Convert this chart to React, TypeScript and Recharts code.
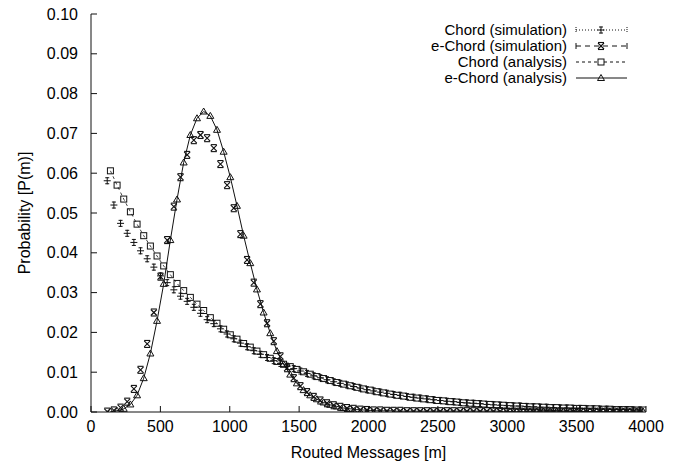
import React from 'react';
import { ScatterChart, Scatter, XAxis, YAxis, Legend } from 'recharts';

const W = 679;
const H = 464;
const FONT = '"Liberation Sans", Arial, Helvetica, sans-serif';
const FS = 16;
const LEG_FS = 15;

const seriesNames = ['Chord (simulation)', 'e-Chord (simulation)', 'Chord (analysis)', 'e-Chord (analysis)'];
const xTicks = [0, 500, 1000, 1500, 2000, 2500, 3000, 3500, 4000];
const yTicks = [0, 0.01, 0.02, 0.03, 0.04, 0.05, 0.06, 0.07, 0.08, 0.09, 0.1];

// routed messages at which the simulated values are reported
const simX = [117, 165, 213, 261, 309, 357, 405, 453, 501, 549, 597, 645, 693, 741, 789, 837, 885, 933, 981, 1029,
  1077, 1125, 1173, 1221, 1269, 1317, 1365, 1413, 1461, 1509, 1557, 1605, 1653, 1701, 1749, 1797, 1845, 1893, 1941, 1989,
  2037, 2085, 2133, 2181, 2229, 2277, 2325, 2373, 2421, 2469, 2517, 2565, 2613, 2661, 2709, 2757, 2805, 2853, 2901, 2949,
  2997, 3045, 3093, 3141, 3189, 3237, 3285, 3333, 3381, 3429, 3477, 3525, 3573, 3621, 3669, 3717, 3765, 3813, 3861, 3909, 3957];

// routed messages at which the analytical values are reported
const anaX = [140, 188, 236, 284, 332, 380, 428, 476, 524, 572, 620, 668, 716, 764, 812, 860, 908, 956, 1004, 1052,
  1100, 1148, 1196, 1244, 1292, 1340, 1388, 1436, 1484, 1532, 1580, 1628, 1676, 1724, 1772, 1820, 1868, 1916, 1964, 2012,
  2060, 2108, 2156, 2204, 2252, 2300, 2348, 2396, 2444, 2492, 2540, 2588, 2636, 2684, 2732, 2780, 2828, 2876, 2924, 2972,
  3020, 3068, 3116, 3164, 3212, 3260, 3308, 3356, 3404, 3452, 3500, 3548, 3596, 3644, 3692, 3740, 3788, 3836, 3884, 3932, 3980];

const chordSim = [0.0581, 0.0520, 0.0474, 0.0449, 0.0426, 0.0405, 0.0385, 0.0364, 0.0342, 0.0325, 0.0307, 0.0291, 0.0278, 0.0263, 0.0248, 0.0232, 0.0222, 0.0209, 0.0196, 0.0184,
  0.0173, 0.0164, 0.0154, 0.0145, 0.0137, 0.0129, 0.0122, 0.0115, 0.0109, 0.0103, 0.0097, 0.0091, 0.0086, 0.0081, 0.0076, 0.0072, 0.0068, 0.0064, 0.0060, 0.0056,
  0.0053, 0.0050, 0.0047, 0.0044, 0.0042, 0.0039, 0.0037, 0.0035, 0.0033, 0.0031, 0.0029, 0.0027, 0.0026, 0.0024, 0.0023, 0.0022, 0.0021, 0.0019, 0.0018, 0.0017,
  0.0016, 0.0015, 0.0015, 0.0014, 0.0013, 0.0012, 0.0012, 0.0011, 0.0010, 0.0010, 0.0009, 0.0009, 0.0008, 0.0008, 0.0007, 0.0007, 0.0006, 0.0006, 0.0006, 0.0005, 0.0005];

const eChordSim = [0.0001, 0.0004, 0.0011, 0.0026, 0.0058, 0.0106, 0.0171, 0.0250, 0.0340, 0.0432, 0.0516, 0.0590, 0.0646, 0.0683, 0.0696, 0.0688, 0.0663, 0.0623, 0.0570, 0.0512,
  0.0447, 0.0382, 0.0325, 0.0271, 0.0223, 0.0178, 0.0140, 0.0110, 0.0085, 0.0065, 0.0050, 0.0038, 0.0029, 0.0022, 0.0017, 0.0013, 0.0010, 0.0008, 0.0006, 0.0005,
  0.0004, 0.0004, 0.0003, 0.0003, 0.0003, 0.0002, 0.0002, 0.0002, 0.0002, 0.0002, 0.0002, 0.0002, 0.0002, 0.0002, 0.0002, 0.0002, 0.0002, 0.0002, 0.0002, 0.0002,
  0.0001, 0.0001, 0.0001, 0.0001, 0.0001, 0.0001, 0.0001, 0.0001, 0.0001, 0.0001, 0.0001, 0.0001, 0.0001, 0.0001, 0.0001, 0.0001, 0.0001, 0.0001, 0.0001, 0.0001, 0.0001];

const chordAna = [0.0606, 0.0570, 0.0535, 0.0503, 0.0472, 0.0443, 0.0417, 0.0392, 0.0367, 0.0345, 0.0323, 0.0305, 0.0288, 0.0271, 0.0255, 0.0237, 0.0223, 0.0208, 0.0194, 0.0183,
  0.0172, 0.0163, 0.0153, 0.0144, 0.0135, 0.0127, 0.0120, 0.0114, 0.0107, 0.0101, 0.0095, 0.0089, 0.0084, 0.0079, 0.0074, 0.0070, 0.0066, 0.0062, 0.0058, 0.0055,
  0.0051, 0.0048, 0.0045, 0.0042, 0.0040, 0.0037, 0.0035, 0.0033, 0.0031, 0.0029, 0.0028, 0.0026, 0.0025, 0.0023, 0.0022, 0.0021, 0.0020, 0.0019, 0.0018, 0.0017,
  0.0016, 0.0015, 0.0014, 0.0013, 0.0013, 0.0012, 0.0011, 0.0011, 0.0010, 0.0010, 0.0009, 0.0009, 0.0008, 0.0008, 0.0007, 0.0007, 0.0006, 0.0006, 0.0006, 0.0005, 0.0005];

const eChordAna = [0.0001, 0.0003, 0.0008, 0.0019, 0.0042, 0.0085, 0.0147, 0.0229, 0.0322, 0.0432, 0.0534, 0.0627, 0.0696, 0.0738, 0.0755, 0.0744, 0.0709, 0.0654, 0.0590, 0.0518,
  0.0443, 0.0374, 0.0308, 0.0250, 0.0198, 0.0153, 0.0120, 0.0094, 0.0072, 0.0055, 0.0042, 0.0032, 0.0024, 0.0018, 0.0014, 0.0010, 0.0008, 0.0006, 0.0005, 0.0004,
  0.0003, 0.0003, 0.0003, 0.0002, 0.0002, 0.0002, 0.0002, 0.0002, 0.0002, 0.0002, 0.0002, 0.0002, 0.0002, 0.0002, 0.0002, 0.0002, 0.0002, 0.0002, 0.0002, 0.0001,
  0.0001, 0.0001, 0.0001, 0.0001, 0.0001, 0.0001, 0.0001, 0.0001, 0.0001, 0.0001, 0.0001, 0.0001, 0.0001, 0.0001, 0.0001, 0.0001, 0.0001, 0.0001, 0.0001, 0.0001, 0.0001];

const pts = (xs: number[], ys: number[]) =>
  ys.slice(0, xs.length).map((y, i) => ({ x: xs[i], y }));

const INK = '#111';
const TICK_LEN = 6;
const XTM = 9;
const YTM = 13;

// ---- markers ----
const PlusMark = ({ cx, cy }: any) => {
  if (cx == null || cy == null) return null;
  return (
    <g stroke={INK} strokeWidth={1} fill="none">
      <line x1={cx - 3.5} x2={cx + 3.5} y1={cy} y2={cy} />
      <line x1={cx} x2={cx} y1={cy - 3.5} y2={cy + 3.5} />
      <line x1={cx - 2} x2={cx + 2} y1={cy - 3} y2={cy - 3} />
      <line x1={cx - 2} x2={cx + 2} y1={cy + 3} y2={cy + 3} />
    </g>
  );
};

const CrossMark = ({ cx, cy }: any) => {
  if (cx == null || cy == null) return null;
  return (
    <g stroke={INK} strokeWidth={1.1} fill="none">
      <line x1={cx - 3} x2={cx + 3} y1={cy - 3} y2={cy + 3} />
      <line x1={cx - 3} x2={cx + 3} y1={cy + 3} y2={cy - 3} />
      <line x1={cx - 3} x2={cx + 3} y1={cy - 3.5} y2={cy - 3.5} />
      <line x1={cx - 3} x2={cx + 3} y1={cy + 3.5} y2={cy + 3.5} />
    </g>
  );
};

const SquareMark = ({ cx, cy }: any) => {
  if (cx == null || cy == null) return null;
  return <rect x={cx - 3} y={cy - 3} width={6} height={6} stroke={INK} strokeWidth={1} fill="none" />;
};

const TriMark = ({ cx, cy }: any) => {
  if (cx == null || cy == null) return null;
  return (
    <polygon
      points={`${cx},${cy - 3.5} ${cx - 3.5},${cy + 2.5} ${cx + 3.5},${cy + 2.5}`}
      stroke={INK}
      strokeWidth={1}
      fill="none"
    />
  );
};

// ---- ticks ----
const XTickBottom = (props: any) => {
  const { x, y, payload } = props;
  const ay = y - XTM;
  return (
    <g>
      <line x1={x} x2={x} y1={ay} y2={ay - TICK_LEN} stroke={INK} />
      <text x={x} y={y} dy="0.71em" textAnchor="middle" fontSize={FS} fontFamily={FONT} fill="#000">
        {payload.value}
      </text>
    </g>
  );
};

const XTickTop = (props: any) => {
  const { x, y } = props;
  return <line x1={x} x2={x} y1={y} y2={y + TICK_LEN} stroke={INK} />;
};

const YTickLeft = (props: any) => {
  const { x, y, payload } = props;
  const ax = x + YTM;
  return (
    <g>
      <line x1={ax} x2={ax + TICK_LEN} y1={y} y2={y} stroke={INK} />
      <text x={x} y={y} dy="0.355em" textAnchor="end" fontSize={FS} fontFamily={FONT} fill="#000">
        {Number(payload.value).toFixed(2)}
      </text>
    </g>
  );
};

const YTickRight = (props: any) => {
  const { x, y } = props;
  return <line x1={x} x2={x - TICK_LEN} y1={y} y2={y} stroke={INK} />;
};

// ---- axis titles ----
const XTitle = (props: any) => {
  const vb = props.viewBox || { x: 91, y: 412, width: 555, height: 52 };
  const cx = vb.x + vb.width / 2;
  return (
    <text x={cx} y={vb.y + 40} dy="0.355em" textAnchor="middle" fontSize={FS} fontFamily={FONT} fill="#000">
      Routed Messages [m]
    </text>
  );
};

const YTitle = (props: any) => {
  const vb = props.viewBox || { x: 0, y: 14, width: 91, height: 398 };
  const cx = 24;
  const cy = vb.y + vb.height / 2;
  return (
    <text
      x={cx}
      y={cy}
      dy="0.355em"
      transform={`rotate(-90 ${cx} ${cy})`}
      textAnchor="middle"
      fontSize={FS}
      fontFamily={FONT}
      fill="#000"
    >
      Probability [P(m)]
    </text>
  );
};

// ---- legend ----
const legendRowsY = [30, 46, 62, 78];
const LegendBox = () => {
  const tx = 567;
  const l0 = 576;
  const l1 = 627;
  const mx = 601;
  return (
    <svg width={W} height={100} style={{ display: 'block' }}>
      {seriesNames.map((name, i) => {
        const y = legendRowsY[i];
        return (
          <g key={name}>
            <text x={tx} y={y} dy="0.355em" textAnchor="end" fontSize={LEG_FS} fontFamily={FONT} fill="#000">
              {name}
            </text>
            {i === 0 && (
              <g stroke={INK} strokeWidth={1}>
                <line x1={l0} x2={l1} y1={y} y2={y} strokeDasharray="1 2" />
                <line x1={l0} x2={l0} y1={y - 3} y2={y + 3} strokeDasharray="1 1" />
                <line x1={l1} x2={l1} y1={y - 3} y2={y + 3} strokeDasharray="1 1" />
                <PlusMark cx={mx} cy={y} />
              </g>
            )}
            {i === 1 && (
              <g stroke={INK} strokeWidth={1}>
                <line x1={l0} x2={l1} y1={y} y2={y} strokeDasharray="5 4" />
                <line x1={l0} x2={l0} y1={y - 3} y2={y + 3} />
                <line x1={l1} x2={l1} y1={y - 3} y2={y + 3} />
                <CrossMark cx={mx} cy={y} />
              </g>
            )}
            {i === 2 && (
              <g stroke={INK} strokeWidth={1}>
                <line x1={l0} x2={mx - 3} y1={y} y2={y} strokeDasharray="3 3" />
                <line x1={mx + 3} x2={l1} y1={y} y2={y} strokeDasharray="3 3" />
                <SquareMark cx={mx} cy={y} />
              </g>
            )}
            {i === 3 && (
              <g stroke={INK} strokeWidth={1}>
                <line x1={l0} x2={l1} y1={y} y2={y} />
                <TriMark cx={mx} cy={y} />
              </g>
            )}
          </g>
        );
      })}
    </svg>
  );
};

export default function App() {
  return (
    <div style={{ position: 'absolute', left: 0, top: 0, width: W, height: H, background: '#fff' }}>
      <ScatterChart width={W} height={H} margin={{ top: 14, right: 33, bottom: 0, left: 0 }}>
        <XAxis
          xAxisId="bottom"
          dataKey="x"
          type="number"
          domain={[0, 4000]}
          allowDataOverflow
          ticks={xTicks}
          interval={0}
          height={52}
          tickSize={0}
          tickMargin={XTM}
          axisLine={{ stroke: INK }}
          tickLine={false}
          tick={<XTickBottom />}
          label={<XTitle />}
        />
        <XAxis
          xAxisId="top"
          dataKey="x"
          type="number"
          orientation="top"
          domain={[0, 4000]}
          allowDataOverflow
          ticks={xTicks}
          interval={0}
          height={0}
          tickSize={0}
          tickMargin={0}
          axisLine={{ stroke: INK }}
          tickLine={false}
          tick={<XTickTop />}
        />
        <YAxis
          yAxisId="left"
          dataKey="y"
          type="number"
          domain={[0, 0.1]}
          allowDataOverflow
          ticks={yTicks}
          interval={0}
          width={91}
          tickSize={0}
          tickMargin={YTM}
          axisLine={{ stroke: INK }}
          tickLine={false}
          tick={<YTickLeft />}
          label={<YTitle />}
        />
        <YAxis
          yAxisId="right"
          dataKey="y"
          type="number"
          orientation="right"
          domain={[0, 0.1]}
          allowDataOverflow
          ticks={yTicks}
          interval={0}
          width={0}
          tickSize={0}
          tickMargin={0}
          axisLine={{ stroke: INK }}
          tickLine={false}
          tick={<YTickRight />}
        />
        <Legend
          layout="vertical"
          align="center"
          verticalAlign="middle"
          wrapperStyle={{ position: 'absolute', left: 0, top: 0, width: W, height: 100, pointerEvents: 'none' }}
          content={<LegendBox />}
        />
        <Scatter
          name={seriesNames[2]}
          data={pts(anaX, chordAna)}
          xAxisId="bottom"
          yAxisId="left"
          line={{ stroke: INK, strokeWidth: 0.8, strokeDasharray: '3 3' }}
          lineType="joint"
          shape={<SquareMark />}
          isAnimationActive={false}
        />
        <Scatter
          name={seriesNames[0]}
          data={pts(simX, chordSim)}
          xAxisId="bottom"
          yAxisId="left"
          shape={<PlusMark />}
          isAnimationActive={false}
        />
        <Scatter
          name={seriesNames[3]}
          data={pts(anaX, eChordAna)}
          xAxisId="bottom"
          yAxisId="left"
          line={{ stroke: INK, strokeWidth: 1 }}
          lineType="joint"
          shape={<TriMark />}
          isAnimationActive={false}
        />
        <Scatter
          name={seriesNames[1]}
          data={pts(simX, eChordSim)}
          xAxisId="bottom"
          yAxisId="left"
          shape={<CrossMark />}
          isAnimationActive={false}
        />
      </ScatterChart>
    </div>
  );
}
